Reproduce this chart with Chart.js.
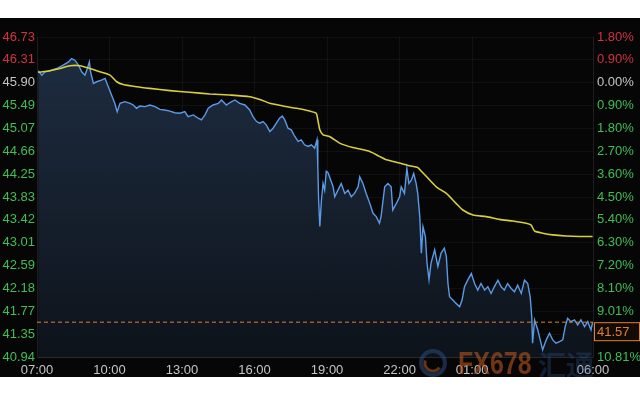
<!DOCTYPE html>
<html>
<head>
<meta charset="utf-8">
<script src="https://cdn.jsdelivr.net/npm/chart.js@4.4.1/dist/chart.umd.min.js"></script>
<style>
  html, body { margin: 0; padding: 0; background: #ffffff; }
  #wrap { position: absolute; left: 0; top: 18px; width: 640px; height: 359px; background: #060606; }
  canvas { display: block; }
</style>
</head>
<body>
<div id="wrap"><canvas id="c" width="640" height="359"></canvas></div>
<script>
// ---- Data (minutes after 07:00) ----
const priceTimes = [3,12,20,32,49,65,78,86,94,103,111,119,125,130,133,140,148,160,169,177,185,193,199,206,218,231,239,247,255,268,280,293,305,317,330,342,355,367,375,388,400,408,417,425,437,450,458,470,478,491,503,516,528,536,545,553,561,569,578,586,594,602,609,615,623,631,640,648,656,664,673,681,689,695,697,699,702,706,710,714,718,722,726,735,739,747,755,764,772,780,788,797,801,809,817,826,834,842,850,854,863,871,879,883,892,900,904,912,918,923,929,935,941,945,950,954,958,964,968,973,978,987,995,1003,1011,1016,1020,1024,1032,1040,1049,1055,1061,1069,1078,1086,1094,1102,1111,1119,1127,1135,1144,1152,1160,1168,1177,1185,1193,1202,1210,1218,1224,1228,1230,1235,1243,1251,1255,1264,1272,1280,1288,1297,1305,1311,1317,1325,1334,1342,1350,1359,1367,1375,1379];
const priceValues = [46.12,46.04,46.10,46.12,46.16,46.22,46.28,46.34,46.31,46.22,46.10,46.04,46.16,46.28,46.10,45.89,45.92,45.95,45.98,45.83,45.68,45.53,45.38,45.53,45.56,45.53,45.50,45.44,45.48,45.47,45.50,45.47,45.42,45.41,45.39,45.36,45.35,45.38,45.29,45.32,45.26,45.23,45.32,45.44,45.50,45.53,45.59,45.50,45.54,45.59,45.53,45.50,45.41,45.29,45.20,45.17,45.20,45.14,45.02,45.08,45.17,45.26,45.30,45.23,45.08,45.05,44.93,44.84,44.87,44.78,44.75,44.78,44.72,44.87,44.38,43.78,43.30,43.78,44.08,43.96,44.30,44.28,44.20,44.02,43.84,43.96,44.08,43.90,43.96,43.84,43.90,44.02,44.20,44.08,43.90,43.72,43.54,43.48,43.36,43.48,44.02,44.08,44.02,43.60,43.72,43.84,44.02,43.90,44.35,44.08,44.14,44.26,44.08,43.90,43.48,42.82,43.30,43.12,42.64,42.34,42.64,42.88,42.58,42.82,42.91,42.76,42.27,42.03,41.97,41.91,41.85,41.97,42.21,42.33,42.45,42.27,42.15,42.27,42.15,42.21,42.09,42.21,42.33,42.21,42.15,42.27,42.18,42.12,42.24,42.09,42.33,42.27,42.03,41.67,41.19,41.61,41.43,41.19,41.07,41.25,41.37,41.25,41.19,41.22,41.25,41.49,41.64,41.58,41.61,41.52,41.61,41.49,41.58,41.43,41.57];

const avgTimes = [3,32,57,82,107,131,156,181,198,214,247,280,330,379,429,478,528,553,578,611,644,677,693,697,702,710,726,751,784,826,850,867,900,925,945,954,966,991,1016,1040,1057,1082,1115,1148,1181,1214,1226,1235,1255,1280,1313,1346,1379];
const avgValues = [46.09,46.12,46.16,46.21,46.21,46.16,46.10,46.04,45.92,45.87,45.83,45.80,45.76,45.73,45.70,45.68,45.65,45.60,45.53,45.48,45.44,45.39,45.35,45.23,45.05,44.96,44.93,44.81,44.73,44.66,44.57,44.51,44.45,44.40,44.37,44.30,44.21,44.02,43.90,43.72,43.60,43.51,43.48,43.43,43.40,43.36,43.33,43.22,43.18,43.15,43.13,43.12,43.12];

const lastPrice = 41.57;
const leftLabels = ['46.73','46.31','45.90','45.49','45.07','44.66','44.25','43.83','43.42','43.01','42.59','42.18','41.77','41.35','40.94'];
const rightLabels = ['1.80%','0.90%','0.00%','0.90%','1.80%','2.70%','3.60%','4.50%','5.40%','6.30%','7.20%','8.10%','9.01%','9.91%','10.81%'];
const xTickMinutes = [0,180,360,540,720,900,1080,1380];
const yMax = 46.73, yMin = 40.94, xMax = 1380;

// ---- helpers ----
const FONT = { family: "'Liberation Sans', Arial, sans-serif", size: 13 };
const RED = '#cf3440', GREEN = '#3fbf55', GRAY = '#c4c4c4';
const nT = leftLabels.length;
const yTickVals = leftLabels.map((_, i) => yMax - i * (yMax - yMin) / (nT - 1));
function colorForTop(i) { return i < 2 ? RED : (i === 2 ? GRAY : GREEN); }
function fmtTime(m) {
  const t = (7 * 60 + m) % (24 * 60);
  const h = Math.floor(t / 60), mm = t % 60;
  return String(h).padStart(2, '0') + ':' + String(mm).padStart(2, '0');
}
const priceData = priceTimes.map((t, i) => ({ x: t, y: priceValues[i] }));
const avgData = avgTimes.map((t, i) => ({ x: t, y: avgValues[i] }));
const lastData = [{ x: 0, y: lastPrice }, { x: xMax, y: lastPrice }];

const overlay = {
  id: 'overlay',
  afterDraw(chart) {
    const ctx = chart.ctx, ys = chart.scales.y, area = chart.chartArea;
    // watermark
    ctx.save();
    const wy = chart.height - 12;
    ctx.globalAlpha = 0.5;
    ctx.lineWidth = 4;
    ctx.strokeStyle = '#2c4f86';
    ctx.beginPath(); ctx.arc(433, wy - 2, 12, 0, Math.PI * 2); ctx.stroke();
    ctx.strokeStyle = '#c8641e';
    ctx.lineWidth = 3;
    ctx.beginPath(); ctx.arc(433, wy - 2, 8, Math.PI * 0.2, Math.PI * 1.1); ctx.stroke();
    ctx.globalAlpha = 0.6;
    ctx.fillStyle = '#b8561c';
    ctx.font = "bold 32px 'Liberation Sans Narrow', 'Liberation Sans', sans-serif";
    ctx.textBaseline = 'middle';
    ctx.save(); ctx.translate(458, wy); ctx.scale(0.78, 1); ctx.fillText('FX678', 0, 0); ctx.restore();
    ctx.globalAlpha = 0.35;
    ctx.fillStyle = '#2c4f86';
    ctx.font = "bold 28px 'Noto Sans CJK SC', sans-serif";
    ctx.fillText('汇通', 538, wy);
    ctx.restore();
    // last price box
    const py = ys.getPixelForValue(lastPrice);
    ctx.save();
    ctx.fillStyle = '#120a04';
    ctx.fillRect(area.right + 1, py, 46, 19);
    ctx.strokeStyle = '#e0822c';
    ctx.lineWidth = 1;
    ctx.strokeRect(area.right + 1.5, py + 0.5, 45, 18);
    ctx.fillStyle = '#e0822c';
    ctx.font = "13px 'Liberation Sans', Arial, sans-serif";
    ctx.textBaseline = 'middle';
    ctx.fillText(lastPrice.toFixed(2), area.right + 4, py + 10);
    ctx.restore();
  }
};

new Chart(document.getElementById('c'), {
  type: 'line',
  data: {
    datasets: [
      {
        data: lastData, borderColor: '#e0822c', borderWidth: 1, borderDash: [4, 3],
        pointRadius: 0, fill: false, order: 0
      },
      {
        data: avgData, borderColor: '#d8cf3a', borderWidth: 1.6, pointRadius: 0,
        fill: false, tension: 0.2, order: 1
      },
      {
        data: priceData, borderColor: '#5b9ae6', borderWidth: 1.4, pointRadius: 0,
        tension: 0, order: 2, fill: 'start',
        backgroundColor(c) {
          const a = c.chart.chartArea;
          if (!a) return 'rgba(28,42,60,0.8)';
          const g = c.chart.ctx.createLinearGradient(0, a.top, 0, a.bottom);
          g.addColorStop(0, 'rgba(32,48,70,0.95)');
          g.addColorStop(1, 'rgba(14,20,28,0.95)');
          return g;
        }
      }
    ]
  },
  options: {
    responsive: false, animation: false,
    layout: { padding: { top: 19, left: 0, right: 0, bottom: 0 } },
    plugins: { legend: { display: false }, tooltip: { enabled: false } },
    scales: {
      x: {
        type: 'linear', min: 0, max: xMax, position: 'bottom',
        afterBuildTicks(s) { s.ticks = xTickMinutes.map(v => ({ value: v })); },
        afterFit(s) { s.height = 20; },
        ticks: { color: GRAY, font: FONT, padding: 6, maxRotation: 0, autoSkip: false, callback: v => fmtTime(v) },
        grid: { color: 'rgba(255,255,255,0.05)', drawTicks: false },
        border: { color: '#2a2a2a' }
      },
      y: {
        position: 'left', min: yMin, max: yMax,
        afterBuildTicks(s) { s.ticks = yTickVals.slice().reverse().map(v => ({ value: v })); },
        afterFit(s) { s.width = 37; },
        ticks: {
          font: FONT, padding: 2, autoSkip: false,
          color: c => colorForTop(nT - 1 - c.index),
          callback: (v, i) => leftLabels[nT - 1 - i]
        },
        grid: { color: 'rgba(255,255,255,0.045)', drawTicks: false },
        border: { color: '#1e1e1e' }
      },
      y2: {
        position: 'right', min: yMin, max: yMax,
        afterBuildTicks(s) { s.ticks = yTickVals.slice().reverse().map(v => ({ value: v })); },
        afterFit(s) { s.width = 47; },
        ticks: {
          font: FONT, padding: 4, autoSkip: false,
          color: c => colorForTop(nT - 1 - c.index),
          callback: (v, i) => rightLabels[nT - 1 - i]
        },
        grid: { display: false, drawTicks: false },
        border: { color: '#1e1e1e' }
      }
    }
  },
  plugins: [overlay]
});
</script>
</body>
</html>
